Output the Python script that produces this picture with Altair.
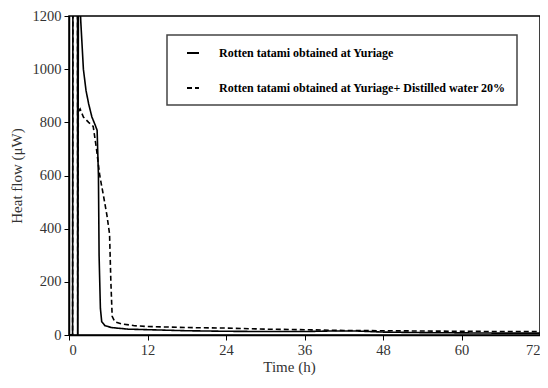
import altair as alt
import pandas as pd

# Series 1: Rotten tatami obtained at Yuriage (solid)
t_solid = [0, 0.55, 0.6, 1.3, 1.33, 1.45, 1.8, 2.2, 2.6, 3.0, 3.5, 4.0, 4.3, 4.5, 4.6, 4.8, 5.0, 5.5,
           6.5, 9, 12, 18, 24, 30, 36, 40, 44, 48, 54, 60, 66, 72]
v_solid = [0, 0, 1400, 1400, 0, 1400, 1180, 1000, 920, 870, 820, 790, 770, 600, 300, 100, 50, 35,
           28, 22, 20, 16, 14, 13, 13, 15, 15, 11, 9, 8, 7, 7]

# Series 2: + distilled water 20% (dashed)
t_dash = [0, 0.55, 0.6, 1.3, 1.33, 1.42, 1.7, 2.2, 3.0, 3.7, 4.2, 4.7, 5.3, 5.8, 6.2, 6.4, 6.6, 7,
          8, 10, 12, 18, 24, 30, 36, 42, 48, 54, 60, 66, 72]
v_dash = [0, 0, 1400, 1400, 0, 840, 850, 820, 800, 785, 700, 600, 520, 450, 380, 200, 70, 50,
          42, 35, 32, 28, 26, 22, 20, 17, 16, 15, 14, 13, 13]

names = ["Rotten tatami obtained at Yuriage",
         "Rotten tatami obtained at Yuriage+ Distilled water 20%"]

x_ticks = [0, 12, 24, 36, 48, 60, 72]
y_ticks = [0, 200, 400, 600, 800, 1000, 1200]

rows = []
for i, (t, v) in enumerate(zip(t_solid, v_solid)):
    rows.append({"t": t, "v": v, "s": names[0], "o": i})
for i, (t, v) in enumerate(zip(t_dash, v_dash)):
    rows.append({"t": t, "v": v, "s": names[1], "o": i})
df = pd.DataFrame(rows)

font = "Liberation Serif"

chart = alt.Chart(df).mark_line(clip=True, strokeWidth=1.6, color="black").encode(
    x=alt.X("t:Q", scale=alt.Scale(domain=[0, 72], nice=False, zero=False),
            axis=alt.Axis(values=x_ticks, title="Time (h)", grid=False, format="d", titleX=220)),
    y=alt.Y("v:Q", scale=alt.Scale(domain=[0, 1200], nice=False),
            axis=alt.Axis(values=y_ticks, title="Heat flow (μW)", grid=False, format="d")),
    strokeDash=alt.StrokeDash("s:N", scale=alt.Scale(domain=names, range=[[1, 0], [5, 3]]),
                              legend=alt.Legend(title=None)),
    order="o:Q",
).properties(
    width=471, height=319,
    autosize=alt.AutoSizeParams(type="none"),
    padding={"left": 61, "top": 8, "right": 0, "bottom": 40},
).configure_view(
    stroke="black", strokeWidth=1.5
).configure_axis(
    labelFont=font, titleFont=font, labelFontSize=14.5, titleFontSize=15,
    titleFontWeight="normal", labelColor="#333", titleColor="#333",
    domainColor="black", tickColor="black", tickSize=5, domainWidth=1.5,
    labelPadding=3,
).configure_axisX(
    titlePadding=3,
).configure_axisY(
    titlePadding=8,
).configure_legend(
    orient="none", legendX=98, legendY=19,
    strokeColor="#444", strokeWidth=1.5, padding=11,
    symbolType="stroke", symbolSize=144, symbolStrokeWidth=2, symbolStrokeColor="black",
    symbolOffset=8,
    labelFont=font, labelFontSize=12, labelFontWeight="bold", labelOffset=19,
    labelLimit=400, rowPadding=22, labelColor="black", fillColor="white",
)

chart.save("out.html", embed_options={"renderer": "svg", "actions": False})
